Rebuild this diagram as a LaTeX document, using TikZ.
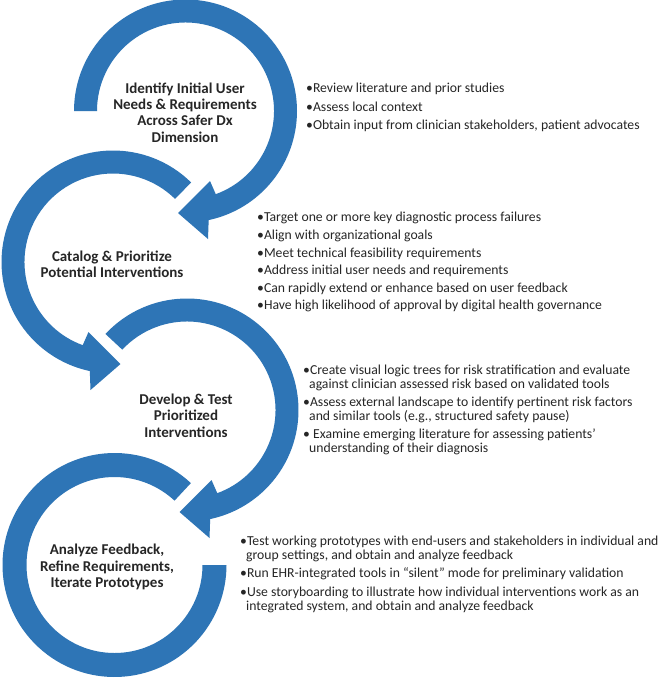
\documentclass[tikz,border=0pt]{standalone}
\usepackage{fontspec}
\setmainfont{Carlito}
\usetikzlibrary{calc}
\definecolor{arcblue}{RGB}{46,117,182}
\definecolor{txt}{RGB}{38,38,38}
\begin{document}
\begin{tikzpicture}[x=1pt,y=1pt,
  ring/.style={fill=arcblue},
  title/.style={font=\fontsize{15}{16.4}\selectfont\bfseries, text=txt, align=center, inner sep=0pt},
  bul/.style={font=\fontsize{13.7}{14.3}\selectfont, text=txt, anchor=base west, inner sep=0pt}]
\useasboundingbox (0,0) rectangle (658,-678);
\fill[white] (0,0) rectangle (658,-678);

% circle 1
\coordinate (C1) at (185.5,-111);
\fill[ring] ($(C1)+(180:111.5)$) arc[start angle=180,end angle=-78,radius=111.5]
  -- ($(C1)+(22.5,-128)$) -- ($(C1)+(-7.5,-102)$) -- ($(C1)+(24.5,-70)$)
  -- ($(C1)+(-70:88.5)$) arc[start angle=-70,end angle=180,radius=88.5] -- cycle;

% circle 2
\coordinate (C2) at (113,-262);
\fill[ring] ($(C2)+(45.5:111.5)$) arc[start angle=45.5,end angle=258,radius=111.5]
  -- ($(C2)+(-22.5,-128)$) -- ($(C2)+(7.5,-102)$) -- ($(C2)+(-24.5,-70)$)
  -- ($(C2)+(250:88.5)$) arc[start angle=250,end angle=45.5,radius=88.5] -- cycle;

% circle 3
\coordinate (C3) at (187,-410);
\fill[ring] ($(C3)+(137:111.5)$) arc[start angle=137,end angle=-78,radius=111.5]
  -- ($(C3)+(22.5,-128)$) -- ($(C3)+(-7.5,-102)$) -- ($(C3)+(24.5,-70)$)
  -- ($(C3)+(-70:88.5)$) arc[start angle=-70,end angle=137,radius=88.5] -- cycle;

% circle 4
\coordinate (C4) at (114.5,-565);
\fill[ring] ($(C4)+(47:112)$) arc[start angle=47,end angle=360,radius=112]
  -- ($(C4)+(0:88)$) arc[start angle=360,end angle=47,radius=88] -- cycle;

% titles
\node[title] (t1) at (185,-112.5) {Identify Initial User\\Needs \& Requirements\\Across Safer Dx\\Dimension};
\node[title] (t2) at (112,-264.5) {Catalog \& Prioritize\\Potential Interventions};
\node[title] (t3) at (186,-415.5) {Develop \& Test\\Prioritized\\Interventions};
\node[title] (t4) at (107,-567) {Analyze Feedback,\\Refine Requirements,\\Iterate Prototypes};

% bullets 1
\node[bul] (a1) at (306,-92.5) {•Review literature and prior studies};
\node[bul] (a2) at (306,-111.5) {•Assess local context};
\node[bul] (a3) at (306,-129.5) {•Obtain input from clinician stakeholders, patient advocates};

% bullets 2
\node[bul] (b1) at (257,-221.5) {•Target one or more key diagnostic process failures};
\node[bul] (b2) at (257,-239.5) {•Align with organizational goals};
\node[bul] (b3) at (257,-257.5) {•Meet technical feasibility requirements};
\node[bul] (b4) at (257,-274.5) {•Address initial user needs and requirements};
\node[bul] (b5) at (257,-292.5) {•Can rapidly extend or enhance based on user feedback};
\node[bul] (b6) at (257,-309.5) {•Have high likelihood of approval by digital health governance};

% bullets 3
\node[bul] (c1) at (303,-374.5) {•Create visual logic trees for risk stratification and evaluate};
\node[bul] (c1b) at (309,-388.5) {against clinician assessed risk based on validated tools};
\node[bul] (c2) at (303,-406.5) {•Assess external landscape to identify pertinent risk factors};
\node[bul] (c2b) at (309,-420.5) {and similar tools (e.g., structured safety pause)};
\node[bul] (c3) at (303,-438.5) {• Examine emerging literature for assessing patients’};
\node[bul] (c3b) at (309,-452.5) {understanding of their diagnosis};

% bullets 4
\node[bul] (d1) at (240,-545) {•Test working prototypes with end-users and stakeholders in individual and};
\node[bul] (d1b) at (246,-559) {group settings, and obtain and analyze feedback};
\node[bul] (d2) at (240,-577.5) {•Run EHR-integrated tools in “silent” mode for preliminary validation};
\node[bul] (d3) at (240,-596) {•Use storyboarding to illustrate how individual interventions work as an};
\node[bul] (d3b) at (246,-610) {integrated system, and obtain and analyze feedback};
\end{tikzpicture}
\end{document}
